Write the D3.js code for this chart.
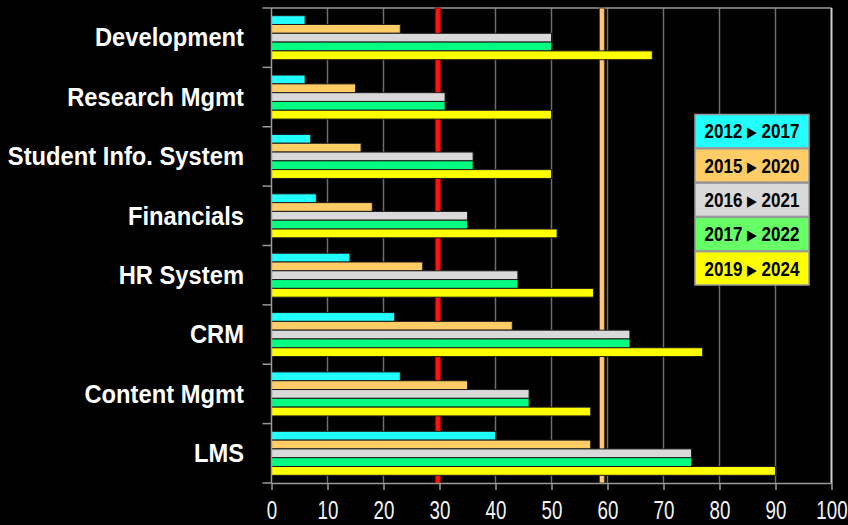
<!DOCTYPE html>
<html>
<head>
<meta charset="utf-8">
<script src="https://cdn.jsdelivr.net/npm/d3@7"></script>
<style>
  html, body { margin: 0; padding: 0; background: #000; }
  svg { display: block; }
</style>
</head>
<body>
<svg id="chart" width="848" height="525"></svg>
<script>
// ---- data ----
const categories = ["Development", "Research Mgmt", "Student Info. System", "Financials",
                    "HR System", "CRM", "Content Mgmt", "LMS"];
const seriesFrom = ["2012", "2015", "2016", "2017", "2019"];
const seriesTo   = ["2017", "2020", "2021", "2022", "2024"];
const values2012 = [6, 6, 7, 8, 14, 22, 23, 40];
const values2015 = [23, 15, 16, 18, 27, 43, 35, 57];
const values2016 = [50, 31, 36, 35, 44, 64, 46, 75];
const values2017 = [50, 31, 36, 35, 44, 64, 46, 75];
const values2019 = [68, 50, 50, 51, 57.5, 77, 57, 90];
const xTicks = [0, 10, 20, 30, 40, 50, 60, 70, 80, 90, 100];
const markerValues = [29.7, 59];

const seriesValues = [values2012, values2015, values2016, values2017, values2019];

// ---- styles ----
const barColors    = ["#22ffff", "#ffcc66", "#d9d9d9", "#00ff80", "#ffff00"];
const legendColors = ["#22ffff", "#ffcc66", "#d9d9d9", "#66ff66", "#ffff00"];
const markerStyles = [{ fill: "#ff1414", stroke: "#9a0000" }, { fill: "#ffc680", stroke: "#5a4020" }];
const axisColor = "#9a9a9a";
const gridColor = "#6e6e6e";
const FONT = "'Liberation Sans', Arial, Helvetica, sans-serif";

const svg = d3.select("#chart");
const plot = { left: 271.5, right: 831.5, top: 8, bottom: 483 };

const x = d3.scaleLinear().domain([0, 100]).range([plot.left, plot.right]);
const y = d3.scaleBand().domain(categories).range([plot.top, plot.bottom]);
const ySeries = d3.scaleBand().domain(d3.range(seriesValues.length))
  .range([0, y.bandwidth()]).paddingOuter(0.875);

// background
svg.append("rect").attr("width", 848).attr("height", 525).attr("fill", "#000");

// vertical gridlines
svg.append("g").selectAll("line")
  .data(xTicks.filter(t => t > 0 && t < 100))
  .join("line")
  .attr("x1", d => x(d)).attr("x2", d => x(d))
  .attr("y1", plot.top).attr("y2", plot.bottom)
  .attr("stroke", gridColor).attr("stroke-width", 1.5);

// top frame line and right frame line
svg.append("line")
  .attr("x1", x(0)).attr("x2", x(100)).attr("y1", plot.top).attr("y2", plot.top)
  .attr("stroke", axisColor).attr("stroke-width", 1.5);
svg.append("line")
  .attr("x1", x(100)).attr("x2", x(100)).attr("y1", plot.top).attr("y2", plot.bottom)
  .attr("stroke", "#d0d0d0").attr("stroke-width", 2);

// reference markers (behind the bars)
svg.append("g").selectAll("rect")
  .data(markerValues)
  .join("rect")
  .attr("x", d => x(d) - 2.5).attr("width", 5)
  .attr("y", plot.top).attr("height", plot.bottom - plot.top)
  .attr("fill", (d, i) => markerStyles[i].fill)
  .attr("stroke", (d, i) => markerStyles[i].stroke)
  .attr("stroke-width", 1);

// bars
const groups = svg.append("g").selectAll("g")
  .data(categories)
  .join("g")
  .attr("transform", c => `translate(0,${y(c)})`);

groups.selectAll("rect")
  .data((c, ci) => seriesValues.map((vals, si) => ({ si, v: vals[ci] })))
  .join("rect")
  .attr("x", x(0))
  .attr("y", d => ySeries(d.si))
  .attr("width", d => x(d.v) - x(0))
  .attr("height", ySeries.bandwidth())
  .attr("fill", d => barColors[d.si])
  .attr("stroke", "#1c1c1c")
  .attr("stroke-width", 1);

// bottom axis
const xAxis = svg.append("g")
  .attr("transform", `translate(0,${plot.bottom})`)
  .call(d3.axisBottom(x).tickValues(xTicks).tickSize(7).tickSizeOuter(0).tickPadding(11).tickFormat(d3.format("d")));
xAxis.select(".domain").attr("stroke", axisColor).attr("stroke-width", 1.5);
xAxis.selectAll(".tick line").attr("stroke", axisColor).attr("stroke-width", 1.5);
xAxis.selectAll(".tick text")
  .attr("fill", "#f4f4f4")
  .attr("font-family", FONT)
  .attr("font-size", 25)
  .attr("transform", "scale(0.75,1)");

// left axis: line with ticks at category boundaries
const leftAxis = svg.append("g");
leftAxis.append("line")
  .attr("x1", plot.left).attr("x2", plot.left)
  .attr("y1", plot.top).attr("y2", plot.bottom)
  .attr("stroke", axisColor).attr("stroke-width", 1.5);
leftAxis.selectAll("line.tick")
  .data(categories.map(c => y(c)).concat([plot.bottom]))
  .join("line")
  .attr("class", "tick")
  .attr("x1", plot.left - 9).attr("x2", plot.left)
  .attr("y1", d => d).attr("y2", d => d)
  .attr("stroke", axisColor).attr("stroke-width", 1.5);

// category labels
svg.append("g").selectAll("text")
  .data(categories)
  .join("text")
  .attr("transform", c => `translate(244,${y(c) + y.bandwidth() / 2}) scale(0.95,1)`)
  .attr("text-anchor", "end")
  .attr("dy", "0.35em")
  .attr("fill", "#ffffff")
  .attr("font-family", FONT)
  .attr("font-weight", "bold")
  .attr("font-size", 25)
  .text(c => c);

// legend
const legendY = d3.scaleBand().domain(d3.range(seriesFrom.length)).range([114.5, 286]);
const legend = svg.append("g");
const items = legend.selectAll("g")
  .data(d3.range(seriesFrom.length))
  .join("g")
  .attr("transform", i => `translate(695,${legendY(i)})`);
items.append("rect")
  .attr("width", 114)
  .attr("height", legendY.bandwidth() - 1)
  .attr("fill", i => legendColors[i])
  .attr("stroke", "#9a9a9a")
  .attr("stroke-width", 1.5);
const lt = items.append("text")
  .attr("transform", `translate(57,${(legendY.bandwidth() - 1) / 2}) scale(0.85,1)`)
  .attr("text-anchor", "middle")
  .attr("dy", "0.36em")
  .attr("fill", "#000")
  .attr("font-family", FONT)
  .attr("font-weight", "bold")
  .attr("font-size", 20);
lt.append("tspan").text(i => seriesFrom[i] + " ");
lt.append("tspan")
  .attr("font-family", "'DejaVu Sans', sans-serif")
  .attr("font-size", 15)
  .attr("dy", -1)
  .text("\u25B6");
lt.append("tspan").attr("dy", 1).text(i => " " + seriesTo[i]);
</script>
</body>
</html>
